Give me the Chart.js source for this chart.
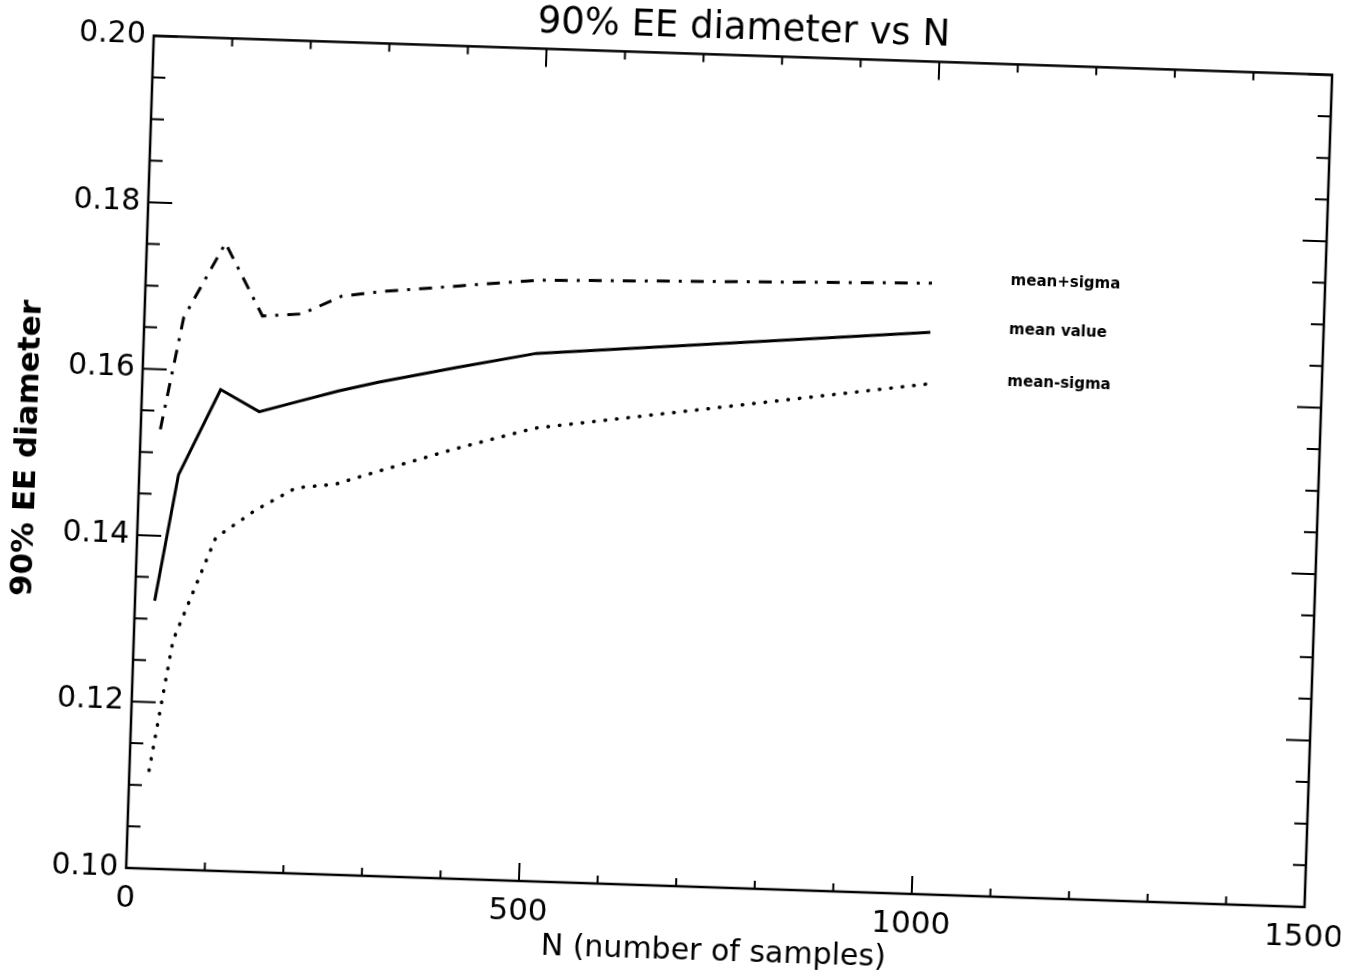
<!DOCTYPE html>
<html>
<head>
<meta charset="utf-8">
<title>90% EE diameter vs N</title>
<script src="https://cdn.jsdelivr.net/npm/chart.js@4.4.1/dist/chart.umd.min.js"></script>
<style>
html, body { margin: 0; padding: 0; background: #fff; overflow: hidden; }
#wrap { width: 1355px; height: 979px; transform: rotate(1.9deg); transform-origin: 50% 50%; }
</style>
</head>
<body>
<div id="wrap"><canvas id="eeChart" width="1355" height="979"></canvas></div>
<script>
// values
var sampleN = [25, 50, 100, 150, 200, 250, 300, 400, 500, 1000];
var meanPlusSigma = [0.1528, 0.1663, 0.1754, 0.1668, 0.1672, 0.1695, 0.1702, 0.1712, 0.1722, 0.1734];
var meanValue = [0.1322, 0.1474, 0.1578, 0.1553, 0.1567, 0.1581, 0.1593, 0.1614, 0.1634, 0.1675];
var meanMinusSigma = [0.1118, 0.1275, 0.1400, 0.1435, 0.1463, 0.1469, 0.1485, 0.1516, 0.1544, 0.1613];

var xTickValues = [0, 500, 1000, 1500];
var yTickValues = [0.10, 0.12, 0.14, 0.16, 0.18, 0.20];
var curveLabels = ['mean+sigma', 'mean value', 'mean-sigma'];

function toPoints(ys) {
    return sampleN.map(function (n, i) { return { x: n, y: ys[i] }; });
}

// box, inward ticks on all four sides, and the curve names on the right
var frameTicks = {
    id: 'frameTicks',
    afterDatasetsDraw: function (chart) {
        var ctx = chart.ctx;
        var a = chart.chartArea;
        var xs = chart.scales.x;
        var ys = chart.scales.y;
        ctx.save();
        ctx.strokeStyle = '#000';
        ctx.lineWidth = 2.5;
        ctx.strokeRect(a.left, a.top, a.right - a.left, a.bottom - a.top);

        ctx.lineWidth = 2;
        ctx.beginPath();
        for (var v = 0; v <= 1500; v += 100) {
            var px = xs.getPixelForValue(v);
            var len = (v % 500 === 0) ? 18 : 8;
            ctx.moveTo(px, a.bottom); ctx.lineTo(px, a.bottom - len);
            ctx.moveTo(px, a.top); ctx.lineTo(px, a.top + len);
        }
        for (var i = 0; i <= 20; i++) {
            var py = ys.getPixelForValue(0.10 + i * 0.005);
            var len2 = (i % 4 === 0) ? 24 : 13;
            ctx.moveTo(a.left, py); ctx.lineTo(a.left + len2, py);
            ctx.moveTo(a.right, py); ctx.lineTo(a.right - len2, py);
        }
        ctx.stroke();

        ctx.fillStyle = '#000';
        ctx.font = 'bold 15px "DejaVu Sans"';
        ctx.textAlign = 'left';
        ctx.textBaseline = 'middle';
        chart.data.datasets.forEach(function (ds, k) {
            var last = ds.data[ds.data.length - 1];
            ctx.fillText(curveLabels[k], xs.getPixelForValue(last.x + 100), ys.getPixelForValue(last.y + 0.0006));
        });
        ctx.restore();
    }
};

var ctx = document.getElementById('eeChart').getContext('2d');
var eeChart = new Chart(ctx, {
    type: 'line',
    data: {
        datasets: [{
            label: 'mean+sigma',
            data: toPoints(meanPlusSigma),
            borderColor: '#000',
            borderWidth: 3,
            borderDash: [13, 9, 3, 9]
        }, {
            label: 'mean value',
            data: toPoints(meanValue),
            borderColor: '#000',
            borderWidth: 3
        }, {
            label: 'mean-sigma',
            data: toPoints(meanMinusSigma),
            borderColor: '#000',
            borderWidth: 3.5,
            borderDash: [0.5, 11],
            borderCapStyle: 'round'
        }]
    },
    options: {
        responsive: false,
        animation: false,
        devicePixelRatio: 1,
        elements: {
            point: { radius: 0 },
            line: { tension: 0, fill: false }
        },
        layout: { padding: { left: 0, right: 37, top: 0, bottom: 0 } },
        plugins: {
            legend: { display: false },
            tooltip: { enabled: false },
            title: {
                display: true,
                text: '90% EE diameter vs N',
                fullSize: false,
                color: '#000',
                font: { family: 'DejaVu Sans', size: 37, weight: 'normal' },
                padding: { top: 5, bottom: 4 }
            }
        },
        scales: {
            x: {
                type: 'linear',
                min: 0,
                max: 1500,
                afterBuildTicks: function (scale) {
                    scale.ticks = xTickValues.map(function (v) { return { value: v }; });
                },
                afterFit: function (scale) {
                    scale.height = 93;
                    scale.paddingLeft = 0;
                    scale.paddingRight = 0;
                },
                grid: { display: false, drawTicks: false },
                border: { display: false },
                ticks: {
                    color: '#000',
                    padding: 12,
                    maxRotation: 0,
                    font: { family: 'DejaVu Sans', size: 31 },
                    callback: function (v) { return String(v); }
                },
                title: {
                    display: true,
                    text: 'N (number of samples)',
                    color: '#000',
                    font: { family: 'DejaVu Sans', size: 30 },
                    padding: { top: 0, bottom: 10 }
                }
            },
            y: {
                type: 'linear',
                min: 0.10,
                max: 0.20,
                afterBuildTicks: function (scale) {
                    scale.ticks = yTickValues.map(function (v) { return { value: v }; });
                },
                afterFit: function (scale) {
                    scale.width = 139;
                    scale.paddingTop = 0;
                    scale.paddingBottom = 0;
                },
                grid: { display: false, drawTicks: false },
                border: { display: false },
                ticks: {
                    color: '#000',
                    padding: 8,
                    font: { family: 'DejaVu Sans', size: 30 },
                    callback: function (v) { return Number(v).toFixed(2); }
                },
                title: {
                    display: true,
                    text: '90% EE diameter',
                    color: '#000',
                    font: { family: 'DejaVu Sans', size: 31, weight: 'bold' },
                    padding: { top: 8, bottom: 0 }
                }
            }
        }
    },
    plugins: [frameTicks]
});
</script>
</body>
</html>
